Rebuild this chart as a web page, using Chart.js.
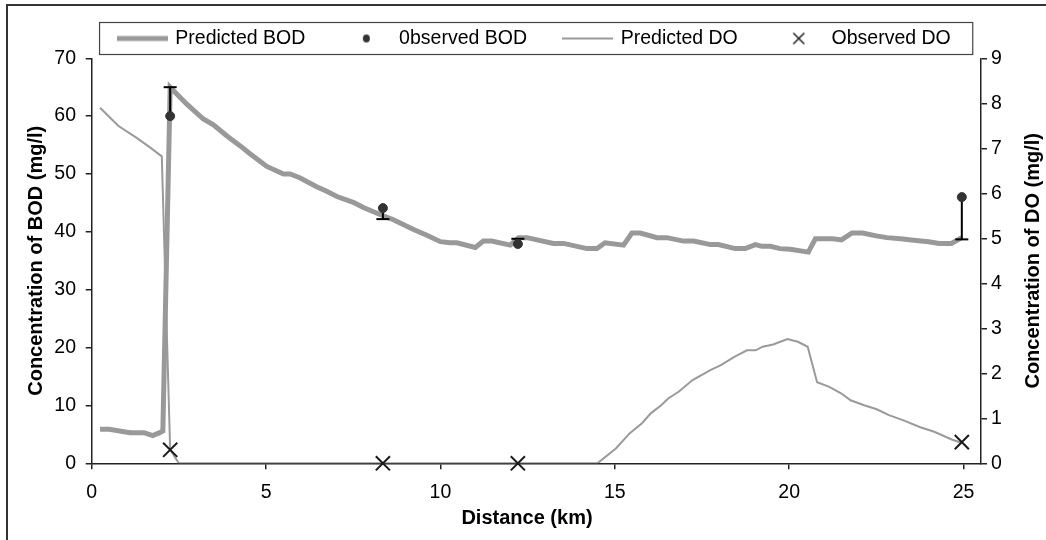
<!DOCTYPE html>
<html>
<head>
<meta charset="utf-8">
<script src="https://cdn.jsdelivr.net/npm/chart.js@4/dist/chart.umd.min.js"></script>
<style>
  html, body { margin: 0; padding: 0; background: #fff; overflow: hidden; }
  #wrap { position: relative; width: 1046px; height: 540px; }
</style>
</head>
<body>
<div id="wrap"><canvas id="bodChart"></canvas></div>
<script>
// predicted BOD along the river (km, mg/l)
const bodDist = [0.24, 0.5, 1.1, 1.5, 1.75, 1.95, 2.04, 2.25, 2.72, 3.2, 3.49, 3.87, 4.25, 4.54, 5.02, 5.5, 5.69, 5.98, 6.45, 6.74, 7.03, 7.5, 7.79, 8.27, 8.65, 9.23, 9.61, 10.0, 10.28, 10.47, 11.0, 11.23, 11.47, 12.0, 12.24, 12.48, 13.24, 13.53, 14.2, 14.49, 14.72, 15.25, 15.49, 15.73, 16.21, 16.49, 16.97, 17.26, 17.74, 17.97, 18.45, 18.74, 19.03, 19.22, 19.46, 19.74, 20.03, 20.55, 20.75, 21.25, 21.5, 21.8, 22.1, 22.5, 22.8, 23.2, 23.5, 24.0, 24.3, 24.65, 24.95];
const bodPred = [5.9, 5.9, 5.3, 5.3, 4.8, 5.3, 5.6, 65.0, 62.1, 59.5, 58.5, 56.6, 54.9, 53.5, 51.3, 50.0, 50.0, 49.3, 47.8, 47.0, 46.1, 45.1, 44.2, 43.0, 42.1, 40.4, 39.4, 38.3, 38.1, 38.1, 37.3, 38.4, 38.4, 37.7, 39.0, 39.0, 38.0, 38.0, 37.1, 37.1, 38.1, 37.7, 39.8, 39.8, 39.0, 39.0, 38.4, 38.4, 37.8, 37.8, 37.1, 37.1, 37.8, 37.5, 37.5, 37.1, 37.0, 36.5, 38.8, 38.8, 38.6, 39.8, 39.8, 39.3, 39.0, 38.8, 38.6, 38.3, 38.0, 38.0, 39.0];

// predicted DO (km, mg/l)
const doDist = [0.24, 0.76, 1.29, 1.67, 2.01, 2.25, 2.5, 14.5, 15.03, 15.43, 15.78, 16.03, 16.33, 16.53, 16.83, 17.23, 17.74, 18.04, 18.44, 18.79, 19.04, 19.24, 19.54, 19.95, 20.25, 20.53, 20.8, 21.15, 21.5, 21.76, 22.15, 22.51, 22.86, 23.26, 23.76, 24.16, 24.66, 24.95];
const doPred = [7.9, 7.5, 7.23, 7.02, 6.82, 0.3, 0, 0, 0.33, 0.67, 0.89, 1.11, 1.29, 1.44, 1.59, 1.85, 2.07, 2.18, 2.37, 2.51, 2.51, 2.59, 2.64, 2.76, 2.70, 2.59, 1.80, 1.70, 1.55, 1.40, 1.29, 1.20, 1.07, 0.96, 0.80, 0.70, 0.53, 0.45];

// observations
const obsDist = [2.25, 8.35, 12.22, 24.95];
const obsBod = [60, 44.1, 37.9, 46];
const bodErrEnd = [65, 42.2, 38.8, 38.7];
const obsDo = [0.3, 0, 0, 0.47];

const xTicks = [0, 5, 10, 15, 20, 25];

const FONT = '"Liberation Sans", Arial, sans-serif';
Chart.defaults.font.family = FONT;
Chart.defaults.font.size = 19.5;
Chart.defaults.color = '#000';

const pts = (xs, ys) => xs.map((x, i) => ({ x: x, y: ys[i] }));

const errPts = [];
obsDist.forEach((x, i) => {
  errPts.push({ x: x, y: obsBod[i] }, { x: x, y: bodErrEnd[i] }, { x: x, y: null });
});

function marker(draw) {
  const c = document.createElement('canvas');
  c.width = 51;
  c.height = 16;
  const g = c.getContext('2d');
  draw(g);
  return c;
}
const legendMarkers = [
  marker(g => { g.strokeStyle = '#999'; g.lineWidth = 5; g.beginPath(); g.moveTo(0, 8); g.lineTo(51, 8); g.stroke(); }),
  marker(g => { g.fillStyle = '#333'; g.beginPath(); g.ellipse(25.5, 8, 3.5, 4, 0, 0, Math.PI * 2); g.fill(); }),
  marker(g => { g.strokeStyle = '#999'; g.lineWidth = 2; g.beginPath(); g.moveTo(0, 8); g.lineTo(51, 8); g.stroke(); }),
  marker(g => { g.strokeStyle = '#222'; g.lineWidth = 1.6; g.beginPath(); g.moveTo(20, 2.5); g.lineTo(31, 13.5); g.moveTo(31, 2.5); g.lineTo(20, 13.5); g.stroke(); })
];

const extras = {
  id: 'extras',
  afterDraw(chart) {
    const ctx = chart.ctx;
    const area = chart.chartArea;
    ctx.save();
    // outer frame
    ctx.strokeStyle = '#333';
    ctx.lineWidth = 2;
    ctx.strokeRect(7, 5, 1060, 560);
    // legend frame
    const boxes = chart.legend.legendHitBoxes;
    if (boxes && boxes.length) {
      const first = boxes[0], last = boxes[boxes.length - 1];
      const cy = first.top + first.height / 2;
      ctx.lineWidth = 1.2;
      ctx.strokeStyle = '#444';
      ctx.strokeRect(first.left - 20, cy - 16, last.left + last.width + 42 - first.left, 32);
    }
    ctx.fillStyle = '#000';
    ctx.textAlign = 'center';
    ctx.textBaseline = 'middle';
    ctx.font = 'bold 20px ' + FONT;
    // x axis title, sitting a little left of the plot centre as in the original
    ctx.fillText('Distance (km)', 527, 518);
    // right axis title, reading upward like the left one
    ctx.translate(1033, (area.top + area.bottom) / 2);
    ctx.rotate(-Math.PI / 2);
    ctx.fillText('Concentration of DO (mg/l)', 0, 0);
    ctx.restore();
  }
};

const axisLine = { display: true, color: '#222', width: 1.5 };
const tickMarks = { drawOnChartArea: false, drawTicks: true, tickLength: 6, color: '#222', lineWidth: 1.5 };

new Chart(document.getElementById('bodChart'), {
  type: 'line',
  data: {
    datasets: [
      {
        label: 'Predicted BOD',
        data: pts(bodDist, bodPred),
        yAxisID: 'y',
        borderColor: '#999',
        borderWidth: 5,
        pointRadius: 0,
        tension: 0,
        order: 3
      },
      {
        label: '0bserved BOD',
        data: pts(obsDist, obsBod),
        yAxisID: 'y',
        showLine: false,
        pointStyle: 'circle',
        pointRadius: 4.5,
        backgroundColor: '#333',
        borderColor: '#333',
        clip: false,
        order: 0
      },
      {
        label: 'Predicted DO',
        data: pts(doDist, doPred),
        yAxisID: 'y2',
        borderColor: '#9a9a9a',
        borderWidth: 2,
        pointRadius: 0,
        tension: 0,
        order: 4
      },
      {
        label: 'Observed DO',
        data: pts(obsDist, obsDo),
        yAxisID: 'y2',
        showLine: false,
        pointStyle: 'crossRot',
        pointRadius: 10,
        borderColor: '#1a1a1a',
        pointBorderWidth: 2,
        clip: false,
        order: 1
      },
      {
        label: 'err',
        data: errPts,
        yAxisID: 'y',
        borderColor: '#000',
        borderWidth: 2,
        spanGaps: false,
        pointStyle: 'line',
        pointRadius: c => (c.dataIndex % 3 === 1 ? 6.5 : 0),
        pointBorderColor: '#000',
        pointBorderWidth: 2,
        clip: false,
        order: 2
      }
    ]
  },
  options: {
    responsive: true,
    maintainAspectRatio: false,
    animation: false,
    layout: { padding: { left: 24.3, right: 0, top: -9.25, bottom: 0 } },
    plugins: {
      tooltip: { enabled: false },
      legend: {
        position: 'top',
        labels: {
          usePointStyle: true,
          pointStyleWidth: 46,
          padding: 38,
          color: '#000',
          font: { size: 19.5 },
          generateLabels: chart => [0, 1, 2, 3].map(i => ({
            text: chart.data.datasets[i].label,
            datasetIndex: i,
            pointStyle: legendMarkers[i],
            hidden: false,
            lineWidth: 0,
            fillStyle: 'rgba(0,0,0,0)',
            strokeStyle: 'rgba(0,0,0,0)',
            fontColor: '#000'
          }))
        }
      }
    },
    scales: {
      x: {
        type: 'linear',
        min: 0,
        max: 25.5,
        afterFit: s => { s.height = 76.7; },
        afterBuildTicks: s => { s.ticks = xTicks.map(v => ({ value: v })); },
        ticks: { padding: 12, font: { size: 19.5 } },
        grid: tickMarks,
        border: axisLine,
        title: { display: false }
      },
      y: {
        position: 'left',
        min: 0,
        max: 70,
        afterFit: s => { s.width = 67.4; },
        ticks: { stepSize: 10, padding: 9.7 },
        grid: tickMarks,
        border: axisLine,
        title: { display: true, text: 'Concentration of BOD (mg/l)', font: { size: 20, weight: 'bold' }, padding: { top: 0, bottom: 0 } }
      },
      y2: {
        position: 'right',
        min: 0,
        max: 9,
        afterFit: s => { s.width = 65; },
        ticks: { stepSize: 1, padding: 4 },
        grid: tickMarks,
        border: axisLine
      }
    }
  },
  plugins: [extras]
});
</script>
</body>
</html>
